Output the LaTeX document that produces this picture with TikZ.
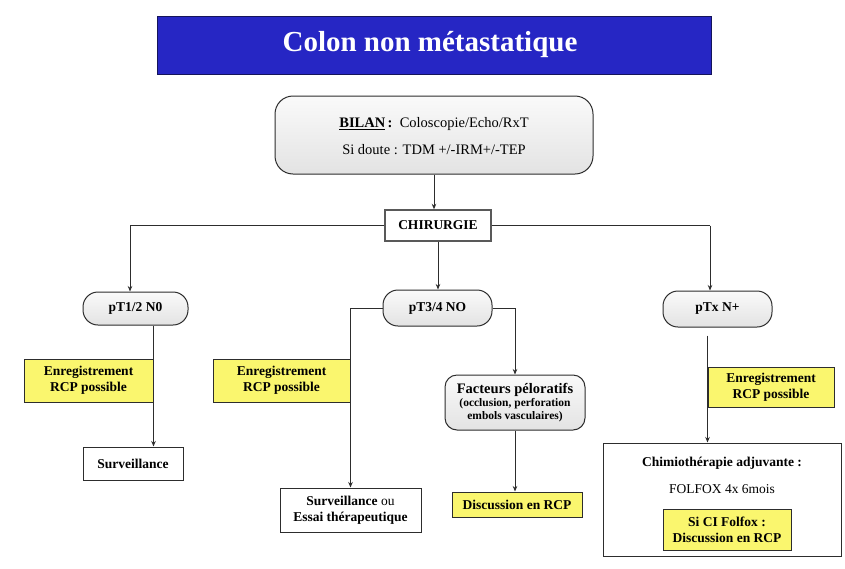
\documentclass[tikz,border=0pt]{standalone}
\usepackage{fontspec}
\setmainfont{Liberation Serif}
\usetikzlibrary{arrows.meta,calc}
\definecolor{banner}{RGB}{38,38,196}
\definecolor{bannerline}{RGB}{20,20,90}
\definecolor{ylw}{RGB}{250,246,110}
\definecolor{ink}{RGB}{45,45,45}
\tikzset{
  box/.style={draw=ink, line width=1pt, inner sep=0pt, align=center},
  graybox/.style={box, rounded corners=#1, top color=gray!4, bottom color=gray!22},
  graybox/.default=15pt,
  plainbox/.style={box, fill=white},
  yellowbox/.style={box, fill=ylw},
  lbl/.style={font=\fontsize{13.5}{16}\selectfont\bfseries},
  conn/.style={draw=ink, line width=1pt},
  arr/.style={conn, -{Stealth[length=5.5pt,width=4.5pt]}}
}
\begin{document}
\begin{tikzpicture}[x=1pt,y=-1pt]
\useasboundingbox[fill=white] (0,0) rectangle (845,568);

% title banner
\node[draw=bannerline, line width=1pt, fill=banner, minimum width=554pt, minimum height=58pt, inner sep=0pt]
  (title) at (434,45) {};
\node[text=white, font=\fontsize{29}{34}\selectfont\bfseries] (titletxt) at (430,45) {Colon non métastatique};

% bilan
\node[graybox=18pt, minimum width=318pt, minimum height=78pt] (bilan) at (434,135) {};
\node[font=\fontsize{14.5}{17}\selectfont] (bilan1) at (434,124) {\textbf{\underline{BILAN}\,:}\ \ Coloscopie/Echo/RxT};
\node[font=\fontsize{14.5}{17}\selectfont] (bilan2) at (434,150) {Si doute : TDM +/-IRM+/-TEP};

% chirurgie
\node[plainbox, draw=gray!70!black, line width=1.4pt, lbl, minimum width=106pt, minimum height=31pt] (chir) at (438,225.5) {CHIRURGIE};
\draw[arr] (bilan.south) -- (bilan.south |- chir.north);

% stages
\node[graybox, lbl, minimum width=105pt, minimum height=33pt] (p1) at (135.5,308.5) {pT1/2 N0};
\node[graybox, lbl, minimum width=109pt, minimum height=36pt] (p2) at (437.5,308) {pT3/4 NO};
\node[graybox, lbl, minimum width=109pt, minimum height=36pt] (p3) at (717.5,309) {pTx N+};

\coordinate (jl) at (130,225.5);
\coordinate (jr) at (710,225.5);
\draw[conn] (chir.west) -- (jl);
\draw[conn] (chir.east) -- (jr);
\draw[arr] (jl) -- (jl |- p1.north);
\draw[arr] (chir.south) -- (chir.south |- p2.north);
\draw[arr] (jr) -- (jr |- p3.north);

% left branch
\node[yellowbox, lbl, minimum width=129pt, minimum height=43pt] (y1) at (88.5,380.5) {Enregistrement\\RCP possible};
\node[plainbox, lbl, minimum width=100pt, minimum height=33pt] (surv1) at (133,463.5) {Surveillance};
\draw[arr] (p1.south -| y1.east) -- (y1.east |- surv1.north);

% middle branch
\node[yellowbox, lbl, minimum width=137pt, minimum height=43pt] (y2) at (281.5,380.5) {Enregistrement\\RCP possible};
\node[plainbox, lbl, minimum width=141pt, minimum height=44pt] (surv2) at (350.5,510) {Surveillance \textmd{ou}\\Essai thérapeutique};
\draw[arr] (p2.west) -- (p2.west -| y2.east) -- (y2.east |- surv2.north);

\node[graybox=12pt, minimum width=140pt, minimum height=55pt, font=\fontsize{11.5}{13}\selectfont\bfseries] (fact) at (515,402.5)
  {{\fontsize{14.5}{16}\selectfont Facteurs péloratifs}\\(occlusion, perforation\\embols vasculaires)};
\draw[arr] (p2.east) -| (fact.north);
\node[yellowbox, lbl, minimum width=130pt, minimum height=25pt] (disc) at (517,504.5) {Discussion en RCP};
\draw[arr] (fact.south) -- (fact.south |- disc.north);

% right branch
\node[yellowbox, lbl, minimum width=126pt, minimum height=40pt] (y3) at (771,387) {Enregistrement\\RCP possible};
\node[plainbox, minimum width=238pt, minimum height=113pt] (chimio) at (722,499.5) {};
\draw[arr] ([yshift=-8pt]y3.west |- p3.south) -- (y3.west |- chimio.north);
\node[lbl] (chimio1) at (722,463) {Chimiothérapie adjuvante :};
\node[font=\fontsize{13.5}{16}\selectfont] (chimio2) at (722,489) {FOLFOX 4x 6mois};
\node[yellowbox, lbl, minimum width=128pt, minimum height=41pt] (ci) at (727,529.5) {Si CI Folfox :\\Discussion en RCP};
\end{tikzpicture}
\end{document}
